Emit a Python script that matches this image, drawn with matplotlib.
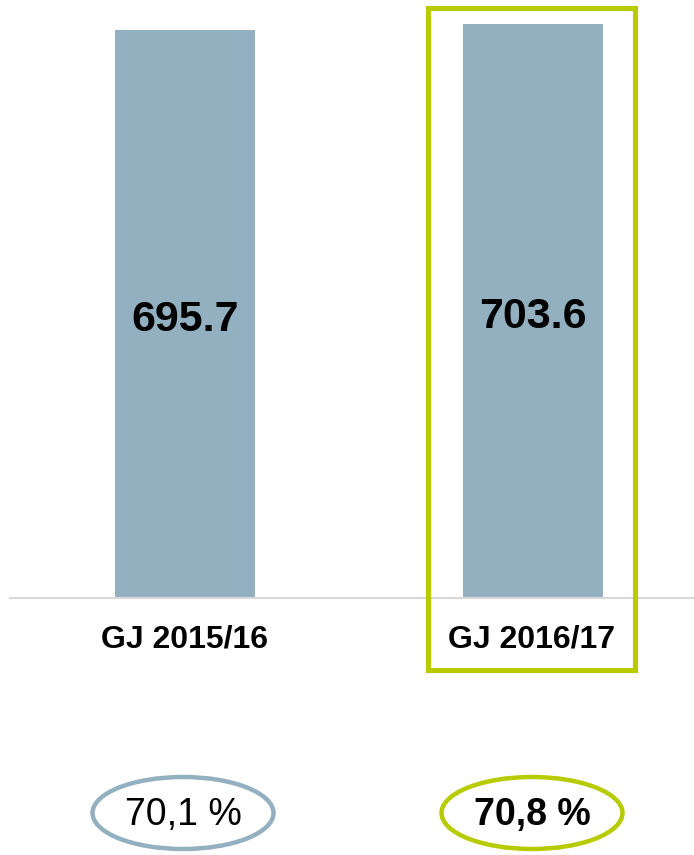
import matplotlib
matplotlib.use('Agg')
import matplotlib.pyplot as plt
from matplotlib.patches import Rectangle, Ellipse

plt.rcParams['font.family'] = ['Liberation Sans', 'DejaVu Sans']

# data
categories = ['GJ 2015/16', 'GJ 2016/17']
values = [695.7, 703.6]
value_labels = ['695.7', '703.6']
shares = ['70,1 %', '70,8 %']

bar_color = '#93b0c1'
green = '#b7cb00'

W, H = 694, 855
fig = plt.figure(figsize=(W / 100, H / 100), dpi=100)

# bar axes: baseline at 598 px from top
base = 598
ax = fig.add_axes([0, (H - base) / H, 1, base / H])
ax.set_xlim(-185 / 348, (W - 185) / 348)
ax.set_ylim(0, base / 0.8158)
ax.axis('off')

x = range(len(categories))
ax.bar(x, values, width=140 / 348, color=bar_color)
for i, v in enumerate(values):
    ax.annotate(value_labels[i], (i, v / 2), xytext=(0, -4.5),
                textcoords='offset points', ha='center', va='center',
                fontsize=31, fontweight='bold', color='black')
ax.axhline(0, xmin=10 / W, xmax=1, color='#d9d9d9', lw=1.5, clip_on=False)

# overlay in pixel coordinates for labels, frame and ellipses
ov = fig.add_axes([0, 0, 1, 1])
ov.set_xlim(0, W)
ov.set_ylim(H, 0)
ov.axis('off')

cx = [185, 532]
for i, c in enumerate(categories):
    ov.text(cx[i], 639, c, ha='center', va='center', fontsize=23,
            fontweight='bold', color='black')

ov.add_patch(Rectangle((428, 8.5), 207, 661.5, fill=False, edgecolor=green, lw=3.7))

ell_cx = [183, 532]
ell_colors = [bar_color, green]
weights = ['normal', 'bold']
for i, s in enumerate(shares):
    ov.add_patch(Ellipse((ell_cx[i], 813), 181, 72, fill=False,
                         edgecolor=ell_colors[i], lw=3.2))
    ov.text(ell_cx[i], 815, s, ha='center', va='center', fontsize=27,
            fontweight=weights[i], color='black')

fig.savefig('out.png', dpi=100)
